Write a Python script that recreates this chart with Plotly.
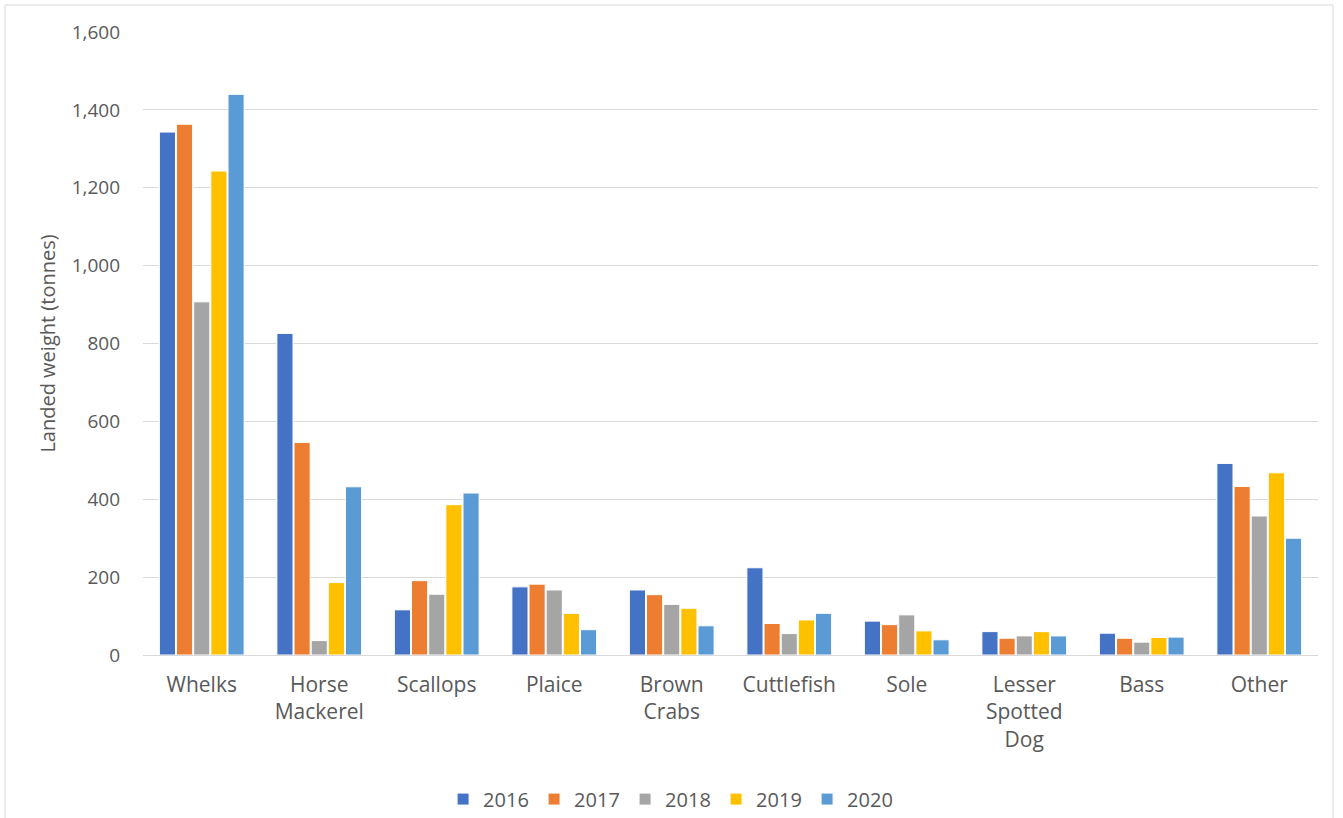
import plotly.graph_objects as go

# Landed weight by species, 2016-2020 (tonnes)
species = ["Whelks", "Horse<br>Mackerel", "Scallops", "Plaice", "Brown<br>Crabs",
           "Cuttlefish", "Sole", "Lesser<br>Spotted<br>Dog", "Bass", "Other"]
years = ["2016", "2017", "2018", "2019", "2020"]

w2016 = [1343, 826, 116, 175, 167, 224, 87, 60, 56, 492]
w2017 = [1363, 546, 191, 182, 155, 81, 78, 43, 43, 433]
w2018 = [907, 37, 156, 167, 130, 55, 103, 49, 33, 357]
w2019 = [1243, 186, 386, 107, 120, 90, 62, 60, 45, 468]
w2020 = [1440, 432, 416, 65, 75, 107, 39, 49, 46, 300]

series = [w2016, w2017, w2018, w2019, w2020]
colors = ["#4472C4", "#ED7D31", "#A5A5A5", "#FFC000", "#5B9BD5"]

font_family = "'Open Sans', sans-serif"
text_grey = "#595959"

fig = go.Figure()
for yr, vals, col in zip(years, series, colors):
    fig.add_trace(go.Bar(
        name=yr, x=species, y=vals,
        marker=dict(color=col, line=dict(color="white", width=1)),
    ))

fig.update_layout(
    width=1343, height=818,
    barmode="group", bargap=0.27, bargroupgap=0.06,
    plot_bgcolor="white", paper_bgcolor="white",
    margin=dict(l=143, r=25, t=32, b=163, autoexpand=False),
    font=dict(family=font_family, size=19, color=text_grey),
    showlegend=True,
    legend=dict(orientation="h", x=0.449, xanchor="center", y=-0.2, yanchor="top",
                font=dict(size=20, color=text_grey), entrywidth=46,
                traceorder="normal"),
    xaxis=dict(showgrid=False, showline=False, ticks="", tickfont=dict(size=21, color=text_grey),
               ticklabelstandoff=15),
    yaxis=dict(range=[0, 1600], dtick=200, tickformat=",", showgrid=True,
               gridcolor="#d9d9d9", gridwidth=1, zeroline=True, zerolinecolor="#d9d9d9",
               zerolinewidth=1, showline=False, ticks="",
               tickfont=dict(size=19, color=text_grey), ticklabelstandoff=22,
               title=dict(text="Landed weight (tonnes)", standoff=10,
                          font=dict(size=20, color=text_grey))),
    shapes=[dict(type="rect", xref="paper", yref="paper",
                 x0=(5 - 143) / 1175, x1=(1333 - 143) / 1175,
                 y0=-0.27, y1=(655 - 5) / 623,
                 line=dict(color="#d9d9d9", width=1), fillcolor="rgba(0,0,0,0)",
                 layer="below")],
)

fig.write_html("out.html")
